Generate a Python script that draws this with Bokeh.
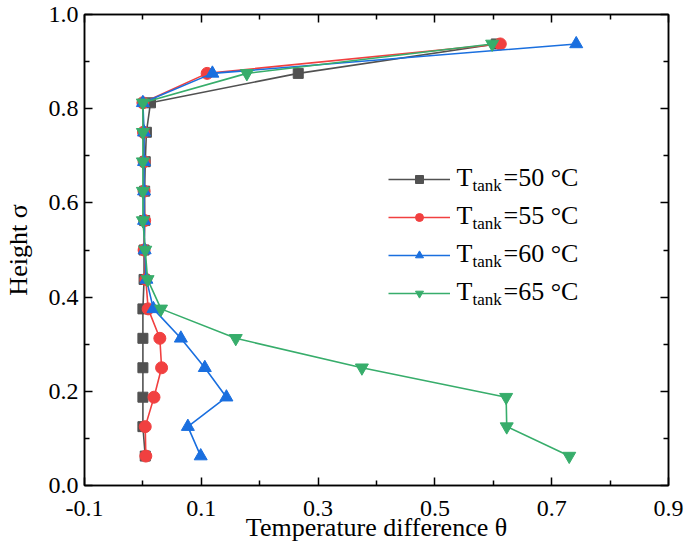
from bokeh.plotting import figure
from bokeh.models import (FixedTicker, LinearAxis, Range1d, Legend, LegendItem,
                          Label, PrintfTickFormatter, CustomJSTickFormatter)
from bokeh.embed import file_html
from bokeh.resources import INLINE

sigma = [0.0625, 0.125, 0.1875, 0.25, 0.3125, 0.375, 0.4375, 0.5, 0.5625,
         0.625, 0.6875, 0.75, 0.8125, 0.875, 0.9375]
t50 = [0.004, 0.0, 0.0, 0.0, 0.0, 0.0, 0.002, 0.002, 0.003, 0.003, 0.004,
       0.006, 0.013, 0.266, 0.605]
t55 = [0.005, 0.004, 0.019, 0.032, 0.029, 0.009, 0.005, 0.002, 0.003, 0.002,
       0.002, 0.001, 0.0, 0.110, 0.612]
t60 = [0.099, 0.077, 0.143, 0.106, 0.065, 0.018, 0.006, 0.003, 0.002, 0.002,
       0.002, 0.002, 0.0, 0.119, 0.742]
t65 = [0.730, 0.623, 0.622, 0.375, 0.159, 0.031, 0.008, 0.004, 0.0, 0.0,
       0.0, 0.0, 0.0, 0.178, 0.598]
series_names = ["50", "55", "60", "65"]
x_major = [-0.1, 0.1, 0.3, 0.5, 0.7, 0.9]
x_minor = [0.0, 0.2, 0.4, 0.6, 0.8]
y_major = [0.0, 0.2, 0.4, 0.6, 0.8, 1.0]
y_minor = [0.1, 0.3, 0.5, 0.7, 0.9]
x_title = "Temperature difference θ"
y_title = "Height σ"

FONT = "Liberation Serif"
colors = ["#515151", "#F14040", "#1A6FDF", "#37AD6B"]
markers = ["square", "circle", "triangle", "inverted_triangle"]
sizes = [10, 12, 13, 13]

p = figure(width=685, height=552, output_backend="svg", toolbar_location=None,
           x_range=Range1d(-0.1, 0.9), y_range=Range1d(0.0, 1.0),
           min_border_left=80, min_border_right=17, min_border_top=14,
           min_border_bottom=67)
p.grid.visible = False
p.outline_line_color = "black"
p.outline_line_width = 1.5

def style_axis(ax, ticks, minor, show_labels=True):
    ax.ticker = FixedTicker(ticks=ticks, minor_ticks=minor)
    ax.axis_line_width = 1.5
    ax.axis_line_color = "black"
    ax.major_tick_in = 8
    ax.major_tick_out = 0
    ax.minor_tick_in = 5
    ax.minor_tick_out = 0
    ax.major_tick_line_width = 1.5
    ax.minor_tick_line_width = 1.5
    ax.major_label_text_font = FONT
    ax.major_label_text_color = "black"
    ax.axis_label_text_font = FONT
    ax.axis_label_text_font_size = "26px"
    ax.axis_label_text_font_style = "normal"
    ax.axis_label_text_color = "black"
    if show_labels:
        ax.formatter = PrintfTickFormatter(format="%.1f")
        ax.major_label_text_font_size = "24px"
    else:
        ax.formatter = CustomJSTickFormatter(code="return ''")
        ax.major_label_text_font_size = "1px"
        ax.major_label_standoff = 0

style_axis(p.xaxis[0], x_major, x_minor)
style_axis(p.yaxis[0], y_major, y_minor)
p.xaxis[0].axis_label = x_title
p.yaxis[0].axis_label = y_title
p.xaxis[0].major_label_standoff = 15
p.xaxis[0].axis_label_standoff = -6
p.yaxis[0].major_label_standoff = 6
p.yaxis[0].axis_label_standoff = 13

top = LinearAxis()
right = LinearAxis()
style_axis(top, x_major, x_minor, False)
style_axis(right, y_major, y_minor, False)
p.add_layout(top, "above")
p.add_layout(right, "right")

items = []
for vals, c, m, s in zip([t50, t55, t60, t65], colors, markers, sizes):
    l = p.line(vals, sigma, line_color=c, line_width=1.6)
    sc = p.scatter(vals, sigma, marker=m, size=s, fill_color=c, line_color=c)
    items.append(LegendItem(label=" ", renderers=[l, sc]))

legend = Legend(items=items, location=(304, 182), padding=0, margin=0,
                spacing=18, glyph_width=62, glyph_height=20, label_height=20,
                label_width=1, label_text_font_size="1px",
                border_line_alpha=0, background_fill_alpha=0)
p.add_layout(legend, "center")

for i, name in enumerate(series_names):
    base = 308 - i * 38
    p.add_layout(Label(x=372, y=base, x_units="screen", y_units="screen",
                       text="T", text_font=FONT, text_font_size="26px",
                       text_baseline="alphabetic", text_color="black"))
    p.add_layout(Label(x=388, y=base - 8, x_units="screen", y_units="screen",
                       text="tank", text_font=FONT, text_font_size="17px",
                       text_baseline="alphabetic", text_color="black"))
    p.add_layout(Label(x=419, y=base, x_units="screen", y_units="screen",
                       text="=" + name + " °C", text_font=FONT,
                       text_font_size="26px", text_baseline="alphabetic",
                       text_color="black"))

open("out.html", "w").write(file_html(p, INLINE))
